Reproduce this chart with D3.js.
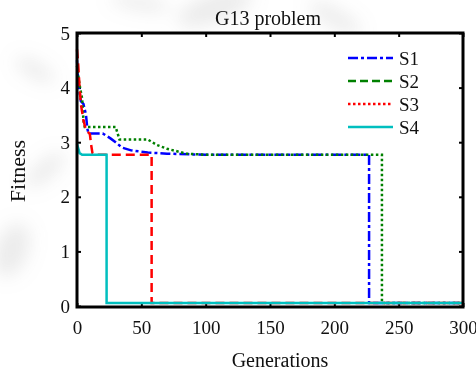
<!DOCTYPE html>
<html>
<head>
<meta charset="utf-8">
<script src="https://cdn.jsdelivr.net/npm/d3@7"></script>
<style>
body { margin: 0; background: #fff; }
text { font-family: "Liberation Serif", "Times New Roman", serif; fill: #111; }
</style>
</head>
<body>
<svg id="chart" width="476" height="374"></svg>
<script>
// values
const s1Gen = [0, 1, 3, 5, 7, 8, 9, 20, 26, 30, 35, 42, 55, 70, 100, 227, 227, 300];
const s1Fit = [4.5, 4.1, 3.75, 3.7, 3.5, 3.25, 3.16, 3.16, 3.07, 3.0, 2.9, 2.85, 2.81, 2.79, 2.77, 2.77, 0.054, 0.054];

const s2Gen = [0, 2, 4, 5, 6, 30, 33, 55, 62, 70, 85, 100, 237, 237, 300];
const s2Fit = [4.4, 4.05, 3.8, 3.4, 3.28, 3.28, 3.05, 3.05, 2.95, 2.88, 2.79, 2.77, 2.77, 0.054, 0.054];

const s3Gen = [0, 1, 2, 3, 5, 7, 10, 11, 12, 14, 58, 58, 300];
const s3Fit = [4.7, 4.4, 4.0, 3.7, 3.4, 3.22, 3.15, 2.95, 2.8, 2.77, 2.77, 0.054, 0.054];

const s4Gen = [0, 2, 4, 23, 23, 300];
const s4Fit = [2.97, 2.8, 2.77, 2.77, 0.054, 0.054];

const seriesNames = ['S1', 'S2', 'S3', 'S4'];
const xTicks = [0, 50, 100, 150, 200, 250, 300];
const yTicks = [0, 1, 2, 3, 4, 5];

const svg = d3.select('#chart');
const plotLeft = 77, plotRight = 463, plotTop = 33, plotBottom = 307;

// faint grey smudges behind the figure
const defs = svg.append('defs');
defs.append('filter').attr('id', 'blur')
    .attr('x', '-50%').attr('y', '-50%').attr('width', '200%').attr('height', '200%')
    .append('feGaussianBlur').attr('stdDeviation', 9);
const smudges = [[215, 8, 40, 14, -20], [335, 18, 30, 9, 30], [35, 70, 22, 8, 30], [45, 170, 25, 9, -40], [12, 250, 16, 28, 20], [140, 3, 30, 7, 10]];
svg.append('g').attr('filter', 'url(#blur)')
    .selectAll('ellipse').data(smudges).enter().append('ellipse')
    .attr('transform', d => `translate(${d[0]},${d[1]}) rotate(${d[4]})`)
    .attr('rx', d => d[2]).attr('ry', d => d[3])
    .attr('fill', '#999').attr('opacity', 0.2);

const x = d3.scaleLinear().domain([0, 300]).range([plotLeft, plotRight]);
const y = d3.scaleLinear().domain([0, 5]).range([plotBottom - 1, plotTop]);

svg.append('rect').attr('x', plotLeft).attr('y', plotTop)
    .attr('width', plotRight - plotLeft).attr('height', plotBottom - plotTop).attr('fill', '#fff');

// axes, ticks pointing inwards
svg.append('g').attr('transform', `translate(0,${plotBottom})`)
    .call(d3.axisBottom(x).tickValues(xTicks).tickSize(-4).tickPadding(14).tickFormat(d3.format('d')));
svg.append('g').attr('transform', `translate(${plotLeft},0)`)
    .call(d3.axisLeft(y).tickValues(yTicks).tickSize(-4).tickPadding(7).tickFormat(d3.format('d')));
svg.append('g').attr('transform', `translate(0,${plotTop})`)
    .call(d3.axisTop(x).tickValues(xTicks).tickSize(-4).tickFormat(''));
svg.append('g').attr('transform', `translate(${plotRight},0)`)
    .call(d3.axisRight(y).tickValues(yTicks).tickSize(-4).tickFormat(''));

svg.selectAll('.domain').remove();
svg.selectAll('.tick line').attr('stroke', '#000').attr('stroke-width', 2);
svg.selectAll('.tick text').style('font-size', '19px')
    .style('font-family', '"Liberation Serif", serif').attr('fill', '#111');

const line = d3.line().x(d => x(d[0])).y(d => y(d[1]));

const series = [
    { gen: s1Gen, fit: s1Fit, color: '#0000ff', dash: '10,3,3,3' },
    { gen: s2Gen, fit: s2Fit, color: '#008000', dash: '2.5,2.5' },
    { gen: s3Gen, fit: s3Fit, color: '#ff0000', dash: '9,5' },
    { gen: s4Gen, fit: s4Fit, color: '#00bfbf', dash: null }
];

svg.append('g').selectAll('path').data(series).enter().append('path')
    .attr('d', s => line(s.gen.map((g, i) => [g, s.fit[i]])))
    .attr('fill', 'none')
    .attr('stroke', s => s.color)
    .attr('stroke-width', 2.5)
    .attr('stroke-dasharray', s => s.dash);

// frame
svg.append('rect').attr('x', plotLeft).attr('y', plotTop)
    .attr('width', plotRight - plotLeft).attr('height', plotBottom - plotTop)
    .attr('fill', 'none').attr('stroke', '#000').attr('stroke-width', 3);

// legend (its styles for S2 and S3 are swapped in the original figure)
const legendDash = ['10,3,3,3', '8,4', '2.5,2.5', null];
const legend = svg.append('g').selectAll('g').data(seriesNames).enter().append('g')
    .attr('transform', (d, i) => `translate(348,${58 + i * 23})`);
legend.append('line').attr('x1', 0).attr('x2', 45)
    .attr('stroke', (d, i) => series[i].color)
    .attr('stroke-width', 2.5)
    .attr('stroke-dasharray', (d, i) => legendDash[i]);
legend.append('text').attr('x', 51).attr('dy', '0.35em')
    .style('font-size', '19px').text(d => d);

svg.append('text').attr('x', 268).attr('y', 25).attr('text-anchor', 'middle')
    .style('font-size', '20px').text('G13 problem');
svg.append('text').attr('x', 280).attr('y', 367).attr('text-anchor', 'middle')
    .style('font-size', '20px').text('Generations');
svg.append('text').attr('transform', 'translate(25,171) rotate(-90)')
    .attr('text-anchor', 'middle').style('font-size', '22px').text('Fitness');
</script>
</body>
</html>
